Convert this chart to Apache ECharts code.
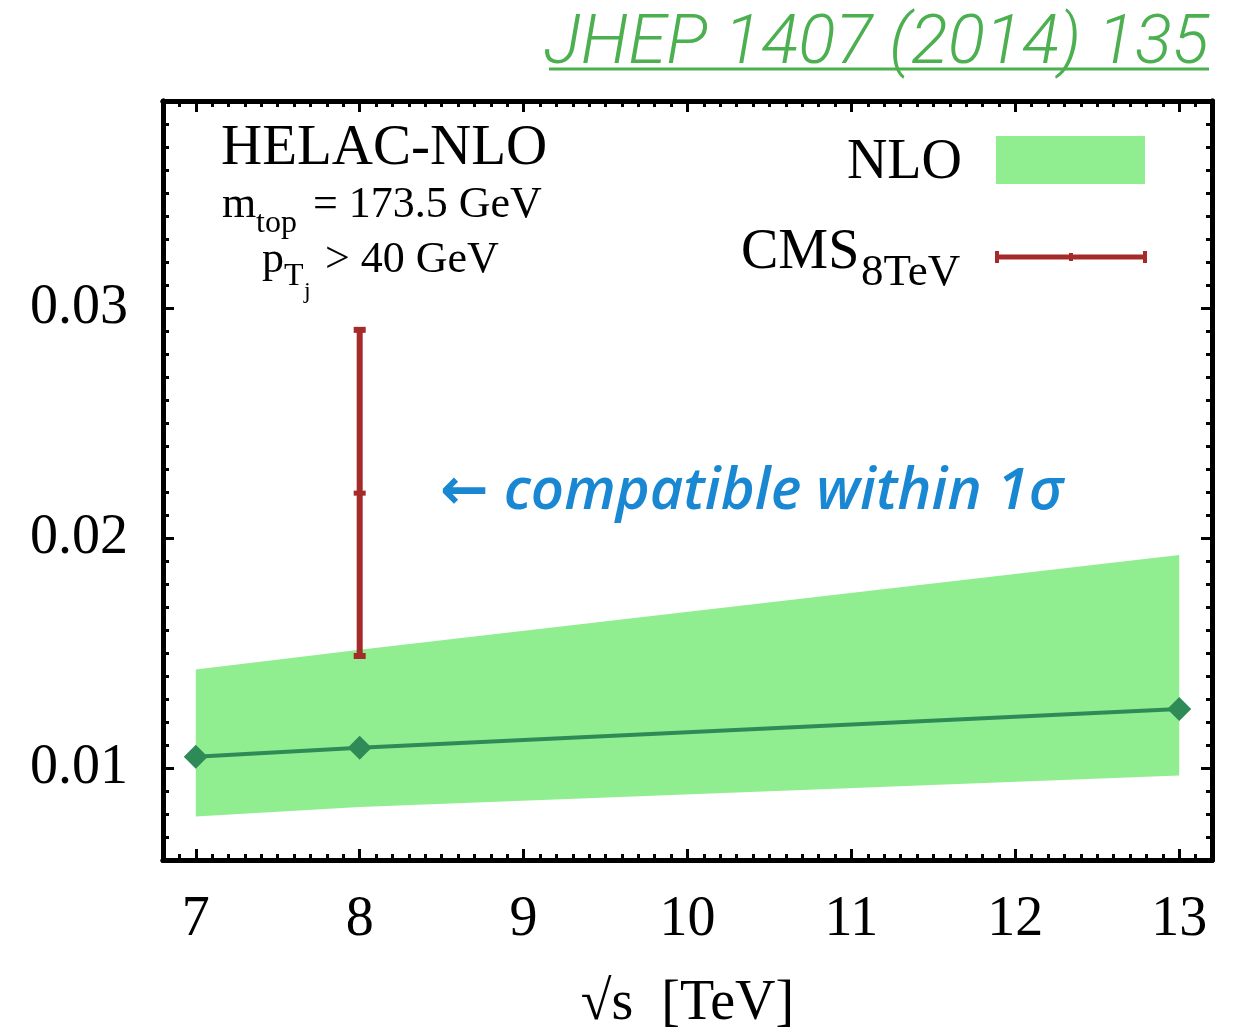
<!DOCTYPE html>
<html>
<head>
<meta charset="utf-8">
<script src="https://cdn.jsdelivr.net/npm/echarts@6/dist/echarts.min.js"></script>
<style>
html,body{margin:0;padding:0;background:#fff;}
#chart{width:1234px;height:1031px;}
</style>
</head>
<body>
<div id="chart"></div>
<script>
// ---- data ----
const energies = [7, 8, 13];                       // sqrt(s) [TeV]
const nloCentral = [0.01049, 0.01088, 0.01256];
const nloUpper = [0.01428, 0.01514, 0.01926];
const nloLower = [0.00789, 0.00830, 0.00967];
const cmsEnergy = [8];
const cmsCentral = [0.02195];
const cmsLow = [0.01487];
const cmsHigh = [0.02905];
const xTickLabels = [7, 8, 9, 10, 11, 12, 13];
const yTickLabels = [0.01, 0.02, 0.03];

const X_MIN = 6.8, X_MAX = 13.2, Y_MIN = 0.006, Y_MAX = 0.039;
const xMinor = []; for (let k = 68; k <= 132; k++) xMinor.push(k / 10);
const yMinor = []; for (let k = 6; k <= 39; k++) yMinor.push(k / 1000);

const SERIF = '"Liberation Serif", "DejaVu Serif", serif';
const chart = echarts.init(document.getElementById('chart'), null, {renderer: 'canvas'});

function xAx(pos, major, showLabel, name) {
  return {
    type: 'value', position: pos, min: X_MIN, max: X_MAX,
    axisLine: {show: true, onZero: false, lineStyle: {color: '#000', width: 5}},
    axisTick: {show: true, inside: true, length: major ? 11 : 6,
      customValues: major ? xTickLabels : xMinor,
      lineStyle: {color: '#000', width: 3}},
    axisLabel: {show: showLabel, customValues: xTickLabels, margin: 32,
      fontFamily: SERIF, fontSize: 56, color: '#000'},
    splitLine: {show: false},
    name: name || '', nameLocation: 'middle', nameGap: 116,
    nameTextStyle: {fontFamily: SERIF, fontSize: 56, color: '#000'}
  };
}
function yAx(pos, major, showLabel) {
  return {
    type: 'value', position: pos, min: Y_MIN, max: Y_MAX,
    axisLine: {show: true, onZero: false, lineStyle: {color: '#000', width: 5}},
    axisTick: {show: true, inside: true, length: major ? 11 : 6,
      customValues: major ? yTickLabels : yMinor,
      lineStyle: {color: '#000', width: 3}},
    axisLabel: {show: showLabel, customValues: yTickLabels, margin: 35,
      fontFamily: SERIF, fontSize: 56, color: '#000',
      formatter: v => v.toFixed(2)},
    splitLine: {show: false}
  };
}

const option = {
  animation: false,
  backgroundColor: '#fff',
  grid: {left: 163, right: 22, top: 101, bottom: 171, containLabel: false, outerBoundsMode: 'none'},
  xAxis: [
    xAx('bottom', true, true, '\u221As  [TeV]'),
    xAx('bottom', false, false),
    xAx('top', true, false),
    xAx('top', false, false)
  ],
  yAxis: [
    yAx('left', true, true),
    yAx('left', false, false),
    yAx('right', true, false),
    yAx('right', false, false)
  ],
  series: [
    {
      type: 'custom', name: 'NLO band', z: 1,
      xAxisIndex: 0, yAxisIndex: 0,
      data: [[energies[0], nloCentral[0]]],
      renderItem: function (params, api) {
        const pts = [];
        for (let i = 0; i < energies.length; i++) pts.push(api.coord([energies[i], nloUpper[i]]));
        for (let i = energies.length - 1; i >= 0; i--) pts.push(api.coord([energies[i], nloLower[i]]));
        return {type: 'polygon', shape: {points: pts}, style: {fill: '#90ee90', stroke: null}};
      }
    },
    {
      type: 'line', name: 'NLO', z: 3,
      xAxisIndex: 0, yAxisIndex: 0,
      data: energies.map((e, i) => [e, nloCentral[i]]),
      symbol: 'diamond', symbolSize: 24,
      lineStyle: {color: '#2e8b57', width: 4},
      itemStyle: {color: '#2e8b57'}
    },
    {
      type: 'custom', name: 'CMS 8TeV', z: 4,
      xAxisIndex: 0, yAxisIndex: 0,
      data: cmsEnergy.map((e, i) => [e, cmsCentral[i], cmsLow[i], cmsHigh[i]]),
      renderItem: function (params, api) {
        const x = api.value(0);
        const c = api.coord([x, api.value(1)]);
        const lo = api.coord([x, api.value(2)]);
        const hi = api.coord([x, api.value(3)]);
        const col = '#a52a2a', hw = 6;
        return {type: 'group', children: [
          {type: 'line', shape: {x1: lo[0], y1: lo[1], x2: hi[0], y2: hi[1]}, style: {stroke: col, lineWidth: 6}},
          {type: 'rect', shape: {x: hi[0] - hw, y: hi[1] - 3, width: hw * 2, height: 6}, style: {fill: col}},
          {type: 'rect', shape: {x: lo[0] - hw, y: lo[1] - 3, width: hw * 2, height: 6}, style: {fill: col}},
          {type: 'rect', shape: {x: c[0] - hw, y: c[1] - 2.5, width: hw * 2, height: 5}, style: {fill: col}}
        ]};
      }
    }
  ],
  graphic: [
    // reference link title
    {type: 'text', right: 25, top: 11, style: {text: 'JHEP 1407 (2014) 135',
      font: 'italic 300 69px Roboto, "Liberation Sans", sans-serif', fill: '#4caf50'}},
    {type: 'line', shape: {x1: 549, y1: 69, x2: 1209, y2: 69}, style: {stroke: '#4caf50', lineWidth: 3}},
    // info text
    {type: 'text', x: 221, y: 149, style: {text: 'HELAC-NLO', font: '57px ' + SERIF, fill: '#000', verticalAlign: 'middle'}},
    {type: 'text', x: 222, y: 205, style: {text: 'm', font: '44px ' + SERIF, fill: '#000', verticalAlign: 'middle'}},
    {type: 'text', x: 256, y: 224, style: {text: 'top', font: '32px ' + SERIF, fill: '#000', verticalAlign: 'middle'}},
    {type: 'text', x: 313, y: 205, style: {text: '= 173.5 GeV', font: '44px ' + SERIF, fill: '#000', verticalAlign: 'middle'}},
    {type: 'text', x: 262, y: 260, style: {text: 'p', font: '44px ' + SERIF, fill: '#000', verticalAlign: 'middle'}},
    {type: 'text', x: 284, y: 277, style: {text: 'T', font: '32px ' + SERIF, fill: '#000', verticalAlign: 'middle'}},
    {type: 'text', x: 304, y: 292, style: {text: 'j', font: '24px ' + SERIF, fill: '#000', verticalAlign: 'middle'}},
    {type: 'text', x: 325, y: 260, style: {text: '> 40 GeV', font: '44px ' + SERIF, fill: '#000', verticalAlign: 'middle'}},
    // legend
    {type: 'text', x: 962, y: 163, style: {text: 'NLO', font: '56px ' + SERIF, fill: '#000', align: 'right', verticalAlign: 'middle'}},
    {type: 'rect', shape: {x: 996, y: 136, width: 149, height: 48}, style: {fill: '#90ee90'}},
    {type: 'text', x: 741, y: 253, style: {text: 'CMS', font: '56px ' + SERIF, fill: '#000', verticalAlign: 'middle'}},
    {type: 'text', x: 861, y: 273, style: {text: '8TeV', font: '45px ' + SERIF, fill: '#000', verticalAlign: 'middle'}},
    {type: 'line', shape: {x1: 996, y1: 257, x2: 1146, y2: 257}, style: {stroke: '#a52a2a', lineWidth: 5}},
    {type: 'rect', shape: {x: 995, y: 251, width: 4, height: 12}, style: {fill: '#a52a2a'}},
    {type: 'rect', shape: {x: 1143, y: 251, width: 4, height: 12}, style: {fill: '#a52a2a'}},
    {type: 'rect', shape: {x: 1069, y: 253, width: 4, height: 8}, style: {fill: '#a52a2a'}},
    // annotation
    {type: 'text', x: 440, y: 492, style: {text: '\u2190 compatible within 1\u03C3',
      font: 'italic 600 58px "Open Sans", "DejaVu Sans", sans-serif', fill: '#1a87d2', verticalAlign: 'middle'}}
  ]
};
chart.setOption(option);
</script>
</body>
</html>
